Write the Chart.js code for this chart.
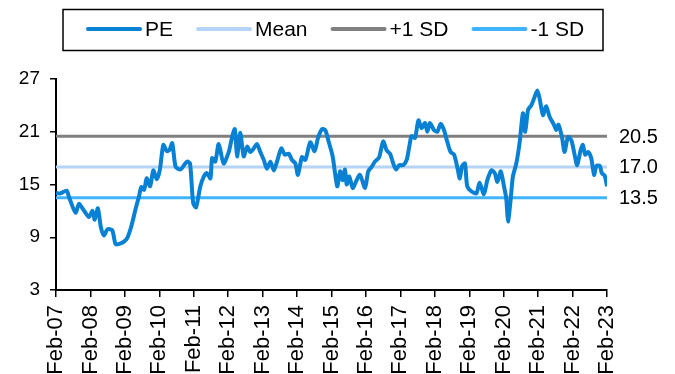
<!DOCTYPE html>
<html>
<head>
<meta charset="utf-8">
<script src="https://cdn.jsdelivr.net/npm/chart.js@4.4.1/dist/chart.umd.min.js"></script>
<style>
  html, body { margin: 0; padding: 0; background: #fff; }
</style>
</head>
<body>
<canvas id="peChart" width="675" height="374"></canvas>
<script>
// PE ratio. x = months after Feb-07
const peMonths = [
  0, 1.6, 3.7, 4.5, 6.8, 8, 9.2, 11.5, 12.7, 13.5, 14.6, 15.6, 16.7, 17.9, 19.6,
  20.8, 22.5, 23.7, 24.8, 26.2, 27.8, 28.9, 29.7, 30.7, 31.6, 32.8, 33.9, 35.1,
  36.2, 37.4, 38.6, 39.5, 40.5, 41.7, 43.4, 44.6, 45.7, 46.7, 47.8, 48.8, 50.3,
  51.5, 52.6, 53.8, 54.4, 55.5, 56.7, 58.4, 60.2, 61.3, 62.3, 63.1, 64.2, 65.4,
  66.6, 67.7, 68.9, 70, 71.2, 72.4, 73.5, 74.7, 75.9, 77, 78.5, 79.7, 81.1, 82.2,
  83.4, 84.3, 85.7, 86.9, 88.6, 90.1, 91.3, 92.7, 93.8, 95, 96.4, 98, 99, 99.9,
  100.7, 101.3, 102.2, 103.4, 104.5, 105.9, 107.7, 108.8, 110, 111.1, 112.6, 114,
  115.2, 116.4, 117.5, 118.5, 119.6, 121, 122.2, 123.1, 123.9, 125.1, 126.3,
  127.4, 128.6, 129.4, 130.3, 131.7, 132.9, 134, 135.2, 136.3, 137.5, 138.7, 140,
  140.7, 141.5, 142.5, 143.3, 144.8, 146.5, 147.6, 149.1, 150.3, 151.7, 152.9,
  153.8, 155, 156.1, 156.9, 157.5, 158.4, 159.2, 160.4, 161.6, 162.7, 163.5,
  164.5, 165.6, 166.6, 167.7, 168.5, 169.7, 170.8, 172, 173.5, 174.3, 175.1,
  176.3, 177.2, 178.4, 179.6, 180.7, 181.6, 182.8, 183.6, 184.4, 185.4, 186.5,
  187.5, 188.3, 189.5, 190.2, 191.2, 192
];
const peValues = [
  14.0, 14.0, 14.3, 13.6, 11.8, 12.8, 12.3, 11.3, 12.0, 11.0, 12.3, 10.2, 9.2, 9.9, 9.8,
  8.2, 8.3, 8.5, 8.9, 10.2, 12.3, 13.6, 14.7, 14.4, 15.7, 14.8, 16.6, 15.6,
  16.7, 19.5, 18.8, 18.9, 19.7, 17.0, 16.7, 17.2, 17.6, 17.4, 12.9, 12.4, 14.8,
  15.9, 16.3, 15.7, 18.0, 17.6, 19.6, 17.4, 18.7, 20.3, 21.3, 18.2, 20.9, 18.2,
  19.3, 18.7, 19.1, 19.6, 18.7, 17.8, 16.8, 17.6, 16.6, 17.6, 19.1, 18.4, 18.5, 17.8,
  17.4, 16.1, 18.1, 17.8, 19.8, 18.8, 20.3, 21.3, 21.2, 19.9, 18.2, 14.8, 16.5, 15.5,
  16.7, 15.0, 15.9, 14.6, 15.3, 16.1, 14.6, 16.5, 17.0, 17.6, 18.1, 19.9,
  18.9, 18.5, 17.4, 16.7, 17.2, 17.2, 17.8, 19.3, 20.5, 20.3, 22.3,
  21.4, 22.0, 21.0, 22.0, 21.2, 21.0, 21.9, 21.2, 19.9, 18.7, 18.4, 16.7,
  15.7, 17.1, 17.4, 14.8, 14.2, 14.0, 15.2, 13.9, 15.5, 16.6, 16.3,
  15.3, 16.5, 14.8, 13.4, 10.8, 13.2, 15.9, 17.4, 19.9, 23.1, 21.0,
  23.5, 24.0, 24.8, 25.7, 24.8, 22.9, 23.9, 22.7, 21.8, 21.2, 21.8,
  20.4, 18.7, 20.4, 20.0, 18.4, 17.2, 18.9, 19.5, 18.4, 18.7, 18.0,
  16.1, 17.1, 17.1, 16.3, 16.0, 14.8
];

// Mean and +/- 1 standard deviation bands
const refLabels = ['Mean', '+1 SD', '-1 SD'];
const refValues = [17.0, 20.5, 13.5];
const refColors = ['rgb(182,212,245)', 'rgb(128,128,128)', 'rgb(64,180,250)'];

const xTickLabels = [
  'Feb-07', 'Feb-08', 'Feb-09', 'Feb-10', 'Feb-11', 'Feb-12', 'Feb-13', 'Feb-14', 'Feb-15',
  'Feb-16', 'Feb-17', 'Feb-18', 'Feb-19', 'Feb-20', 'Feb-21', 'Feb-22', 'Feb-23'
];
const lastMonth = 192;

const FONT = '"Liberation Sans", Arial, sans-serif';

// Boxed legend across the top
const boxLegend = {
  id: 'boxLegend',
  afterDraw(chart) {
    const ctx = chart.ctx;
    ctx.save();
    ctx.strokeStyle = '#000';
    ctx.lineWidth = 1.5;
    ctx.strokeRect(63, 9.5, 540, 41);
    ctx.font = '21px ' + FONT;
    ctx.textBaseline = 'middle';
    let x = 88;
    chart.data.datasets.forEach(ds => {
      ctx.strokeStyle = ds.borderColor;
      ctx.lineWidth = 4;
      ctx.lineCap = 'round';
      ctx.beginPath();
      ctx.moveTo(x, 29);
      ctx.lineTo(x + 52, 29);
      ctx.stroke();
      x += 57;
      ctx.fillStyle = '#000';
      ctx.fillText(ds.label, x, 30);
      x += ctx.measureText(ds.label).width + 25;
    });
    ctx.restore();
  }
};

// Value labels to the right of the mean / SD lines
const sdLabels = {
  id: 'sdLabels',
  afterDatasetsDraw(chart) {
    const { ctx, chartArea, scales } = chart;
    ctx.save();
    ctx.font = '20px ' + FONT;
    ctx.fillStyle = '#000';
    ctx.textBaseline = 'middle';
    refValues.forEach(v => {
      ctx.fillText(v.toFixed(1), chartArea.right + 12, scales.y.getPixelForValue(v) + 1);
    });
    ctx.restore();
  }
};

const datasets = [{
  label: 'PE',
  data: peMonths.map((m, i) => ({ x: m, y: peValues[i] })),
  borderColor: 'rgb(8,128,212)',
  borderWidth: 4,
  tension: 0.25
}].concat(refLabels.map((lab, i) => ({
  label: lab,
  data: [{ x: 0, y: refValues[i] }, { x: lastMonth, y: refValues[i] }],
  borderColor: refColors[i],
  borderWidth: 3
})));

new Chart(document.getElementById('peChart'), {
  type: 'line',
  data: { datasets },
  plugins: [boxLegend, sdLabels],
  options: {
    responsive: false,
    animation: false,
    layout: { padding: { top: 79, right: 68, left: 0, bottom: 0 } },
    elements: { point: { radius: 0 } },
    plugins: { legend: { display: false }, tooltip: { enabled: false } },
    scales: {
      x: {
        type: 'linear',
        min: 0,
        max: lastMonth,
        afterFit(s) { s.height = 84; },
        border: { color: '#000', width: 2 },
        grid: { drawOnChartArea: false, color: '#000', lineWidth: 1.5, tickLength: 7 },
        ticks: {
          stepSize: 12,
          minRotation: 90,
          maxRotation: 90,
          padding: 8,
          color: '#000',
          font: { family: FONT, size: 22 },
          callback: v => xTickLabels[v / 12]
        }
      },
      y: {
        min: 3,
        max: 27,
        afterFit(s) { s.width = 56; },
        border: { color: '#000', width: 2 },
        grid: { drawOnChartArea: false, color: '#000', lineWidth: 1.5, tickLength: 6 },
        ticks: {
          stepSize: 6,
          padding: 10,
          color: '#000',
          font: { family: FONT, size: 19 }
        }
      }
    }
  }
});
</script>
</body>
</html>
